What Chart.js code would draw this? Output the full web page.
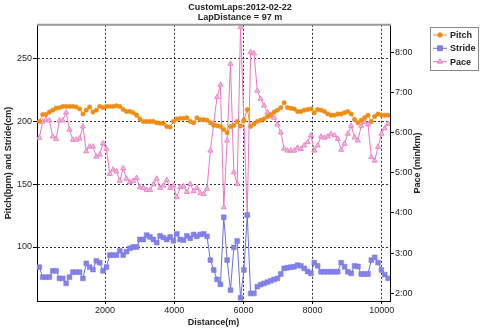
<!DOCTYPE html>
<html>
<head>
<meta charset="utf-8">
<title>CustomLaps 2012-02-22</title>
<script src="https://cdn.jsdelivr.net/npm/chart.js@4/dist/chart.umd.min.js"></script>
<style>
  html, body { margin: 0; padding: 0; background: #fff; }
  #wrap { width: 480px; height: 329px; }
</style>
</head>
<body>
<div id="wrap"><canvas id="lapChart" width="480" height="329"></canvas></div>
<script>
// lap length in metres, every sample below is one lap
const lapDistance = 97;

// cadence per lap (steps/min)
const pitch = [
  200, 205.5, 205.5, 207.5, 209, 210.5, 211, 212, 212, 212, 212, 211.5, 210, 206, 209, 211.5, 207.5, 209,
  212, 211, 212, 212, 212, 212.5, 212, 209.5, 208, 208, 207, 205, 202, 200, 200, 200, 200, 199,
  198.5, 198.5, 196, 195.5, 200, 202, 202.5, 202.5, 203, 200, 199, 203, 201.5, 201.5, 201, 199,
  197, 196.5, 196, 193.6, 191, 196, 197, 200, 196.3, 201, 209.6, 196, 198,
  200, 201, 202, 204, 205.5, 207.5, 209, 211, 215, 211, 210.5, 210, 208,
  208, 209, 209.5, 210, 207, 209.5, 209, 208, 206, 205, 205, 206, 206, 207, 208, 206, 201.6, 199,
  201, 203, 205, 200, 204, 206, 205, 205, 205
];

// stride length per lap (cm)
const stride = [
  84, 76, 76, 76, 81, 81, 75, 75, 71, 76, 80, 80, 80, 75, 87, 84, 82, 89, 87.5, 81, 84, 93.6, 93.6, 93.6, 97, 93.6,
  96.3, 99, 100, 100, 106, 106, 109.5, 108, 106, 103.5, 108.8, 107.5, 106, 108, 105,
  110.5, 106, 105.5, 108.8, 107, 110, 108.5, 110, 110.5, 108.5,
  89.6, 81.7, 74.2, 70.3, 123.7, 89.6, 65.7, 99.7, 104.8, 59.6, 81.7, 125.5, 63, 63,
  68.5, 70, 71, 72, 73, 74.2, 75, 78.5, 83, 83.5, 84, 84.3, 85.6,
  85, 83, 80.5, 79, 87.5, 85, 80.3, 80.3, 80.3, 80.3, 80.3, 80.3, 87.5, 84.3, 80.3, 79, 85, 84.5,
  78.5, 78.5, 78.5, 89.6, 91.8, 87.5, 81.7, 78, 75
];

// pace per lap (min/km, decimal minutes)
const pace = [
  5.87, 6.27, 6.32, 6.3, 5.9, 5.84, 6.3, 6.3, 6.5, 6.07, 5.82, 5.82, 5.85, 6.15, 5.53, 5.65, 5.65, 5.4, 5.45,
  5.73, 5.6, 4.97, 5.08, 5.03, 4.8, 5.11,
  4.85, 4.76, 4.8, 4.87, 4.64, 4.62, 4.57, 4.57, 4.71, 4.85, 4.62, 4.68, 4.82, 4.62, 4.68,
  4.39, 4.64, 4.66, 4.52, 4.72, 4.54, 4.62, 4.49, 4.47, 4.6,
  5.55, 6.22, 6.88, 7.19, 4.14, 5.8, 7.71, 5.01, 4.72, 8.62, 6.3, 3.95, 8.0, 7.97,
  7.04, 6.84, 6.67, 6.5, 6.4, 6.37, 6.2, 6.0, 5.6, 5.55, 5.55, 5.55, 5.62,
  5.59, 5.68, 5.76, 5.93, 5.55, 5.68, 5.9, 5.87, 5.9, 5.97, 5.93, 5.84, 5.57, 5.72, 5.97, 6.17, 5.88, 5.8,
  6.17, 6.26, 6.2, 5.39, 5.3, 5.64, 5.97, 6.1, 6.22
];

const distanceTicks = [2000, 4000, 6000, 8000, 10000];
const leftTicks = [100, 150, 200, 250];
const paceTicks = [2, 3, 4, 5, 6, 7, 8];

const titleLines = ["CustomLaps:2012-02-22", "LapDistance = " + lapDistance + " m"];
const paceAxisTitle = "Pace (min/km)";

// distance at the end of each lap
const distances = pitch.map((_, i) => (i + 1) * lapDistance);
const toPoints = arr => arr.map((v, i) => ({ x: distances[i], y: v }));

function formatPace(v) {
  const m = Math.floor(v);
  const s = Math.round((v - m) * 60);
  return m + ":" + String(s).padStart(2, "0");
}

const FONT = '"Liberation Sans", Arial, sans-serif';
const TEXT = "#222";
const tickFont = { family: FONT, size: 9 };
const titleFont = { family: FONT, size: 9, weight: "bold" };

// top frame line, right axis title and the boxed legend
const chartDecor = {
  id: "chartDecor",
  afterDraw(chart) {
    const { ctx, chartArea: a } = chart;
    ctx.save();
    ctx.strokeStyle = "#999";
    ctx.lineWidth = 2;
    ctx.beginPath();
    ctx.moveTo(a.left, a.top);
    ctx.lineTo(a.right + 1, a.top);
    ctx.stroke();

    ctx.translate(418, (a.top + a.bottom) / 2);
    ctx.rotate(-Math.PI / 2);
    ctx.font = "bold 9px " + FONT;
    ctx.fillStyle = TEXT;
    ctx.textAlign = "center";
    ctx.textBaseline = "middle";
    ctx.fillText(paceAxisTitle, 0, 0);
    ctx.restore();

    ctx.save();
    ctx.fillStyle = "#fff";
    ctx.strokeStyle = "#888";
    ctx.lineWidth = 1;
    ctx.fillRect(430.5, 27.5, 48, 43);
    ctx.strokeRect(430.5, 27.5, 48, 43);
    chart.data.datasets.forEach((ds, k) => {
      const y = 35 + k * 13.3;
      ctx.strokeStyle = ds.borderColor;
      ctx.lineWidth = 1;
      ctx.beginPath();
      ctx.moveTo(433, y);
      ctx.lineTo(447, y);
      ctx.stroke();
      drawMarker(ctx, ds, 440, y);
      ctx.fillStyle = TEXT;
      ctx.font = "bold 9px " + FONT;
      ctx.textAlign = "left";
      ctx.textBaseline = "middle";
      ctx.fillText(ds.label, 450, y + 0.5);
    });
    ctx.restore();
  }
};

function drawMarker(ctx, ds, x, y) {
  const r = ds.pointRadius;
  ctx.fillStyle = ds.pointBackgroundColor;
  ctx.strokeStyle = ds.pointBorderColor;
  ctx.beginPath();
  if (ds.pointStyle === "rect") {
    const h = r * Math.SQRT1_2;
    ctx.rect(x - h, y - h, 2 * h, 2 * h);
  } else if (ds.pointStyle === "triangle") {
    ctx.moveTo(x, y - r);
    ctx.lineTo(x + r * 0.866, y + r * 0.5);
    ctx.lineTo(x - r * 0.866, y + r * 0.5);
    ctx.closePath();
  } else {
    ctx.arc(x, y, r, 0, Math.PI * 2);
  }
  ctx.fill();
  ctx.stroke();
}

new Chart(document.getElementById("lapChart"), {
  type: "line",
  data: {
    datasets: [
      {
        label: "Pitch",
        data: toPoints(pitch),
        yAxisID: "y",
        borderColor: "#f0901e",
        borderWidth: 1,
        pointStyle: "circle",
        pointRadius: 2.2,
        pointBackgroundColor: "#f08c14",
        pointBorderColor: "#f08c14",
        pointBorderWidth: 0.5
      },
      {
        label: "Stride",
        data: toPoints(stride),
        yAxisID: "y",
        borderColor: "#6e6ee0",
        borderWidth: 1,
        pointStyle: "rect",
        pointRadius: 3.4,
        pointBackgroundColor: "#8282ea",
        pointBorderColor: "#7676e6",
        pointBorderWidth: 0.5
      },
      {
        label: "Pace",
        data: toPoints(pace),
        yAxisID: "y1",
        borderColor: "#e878c4",
        borderWidth: 1,
        pointStyle: "triangle",
        pointRadius: 3,
        pointBackgroundColor: "#f2b4dc",
        pointBorderColor: "#e878c4",
        pointBorderWidth: 0.8
      }
    ]
  },
  options: {
    responsive: false,
    animation: false,
    devicePixelRatio: 1,
    parsing: true,
    plugins: {
      legend: { display: false },
      tooltip: { enabled: false },
      title: {
        display: true,
        text: titleLines,
        color: TEXT,
        font: { family: FONT, size: 9, weight: "bold", lineHeight: 1.1 },
        padding: { top: 3, bottom: 2 }
      }
    },
    elements: { line: { tension: 0 } },
    scales: {
      x: {
        type: "linear",
        min: 30,
        max: 10240,
        afterBuildTicks: s => { s.ticks = distanceTicks.map(v => ({ value: v })); },
        afterFit: s => { s.height = 28; },
        grid: { color: "#333", tickColor: "#000", tickLength: 3 },
        border: { color: "#000", dash: [2, 2] },
        ticks: { color: TEXT, font: tickFont, padding: 1, maxRotation: 0, callback: v => String(v) },
        title: { display: true, text: "Distance(m)", color: TEXT, font: titleFont, padding: { top: 0, bottom: 1 } }
      },
      y: {
        position: "left",
        min: 57,
        max: 277,
        afterBuildTicks: s => { s.ticks = leftTicks.map(v => ({ value: v })); },
        afterFit: s => { s.width = 37; },
        grid: { color: "#333", tickColor: "#000", tickLength: 4 },
        border: { color: "#000", dash: [2, 2] },
        ticks: { color: TEXT, font: tickFont, padding: 1 },
        title: { display: true, text: "Pitch(bpm) and Stride(cm)", color: TEXT, font: titleFont, padding: { top: 3, bottom: 0 } }
      },
      y1: {
        position: "right",
        min: 1.81,
        max: 8.68,
        afterBuildTicks: s => { s.ticks = paceTicks.map(v => ({ value: v })); },
        afterFit: s => { s.width = 90; },
        grid: { drawOnChartArea: false, tickColor: "#000", tickLength: 4 },
        border: { color: "#000" },
        ticks: { color: TEXT, font: tickFont, padding: 1, callback: v => formatPace(v) }
      }
    }
  },
  plugins: [chartDecor]
});
</script>
</body>
</html>
